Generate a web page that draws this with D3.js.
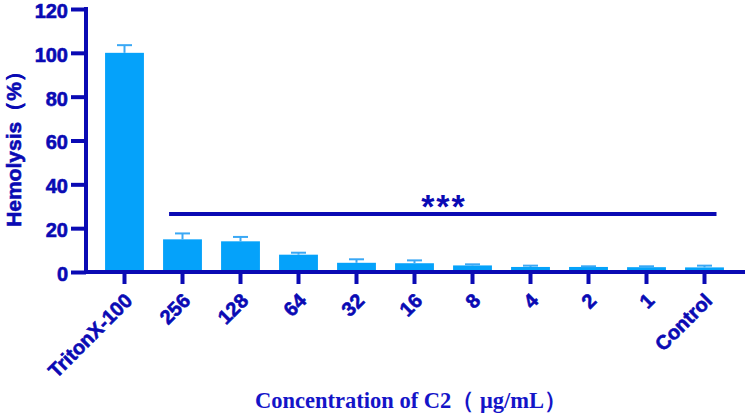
<!DOCTYPE html>
<html>
<head>
<meta charset="utf-8">
<script src="https://cdn.jsdelivr.net/npm/d3@7"></script>
<style>
  body { margin: 0; background: #fff; }
  svg { display: block; }
</style>
</head>
<body>
<div id="chart"></div>
<script>
var w = 747;
var h = 413;

// data
var categories = ['TritonX-100', '256', '128', '64', '32', '16', '8', '4', '2', '1', 'Control'];
var hemolysis = [100, 14.9, 14.0, 7.9, 4.2, 4.0, 3.0, 2.3, 2.3, 2.2, 2.1];
var errorTop = [103.5, 17.6, 16.0, 8.8, 5.8, 5.3, 3.5, 2.9, 2.6, 2.6, 2.9];
var yTicks = [0, 20, 40, 60, 80, 100, 120];
var sigLabel = '***';
var sigFrom = '256';
var sigTo = 'Control';

var axisColor = '#0a0ab4';
var barColor = '#05a2fa';
var errColor = '#3aa8f5';
var sansFont = 'Liberation Sans, Arial, sans-serif';

var svg = d3.select('#chart')
  .append('svg')
  .attr('width', w)
  .attr('height', h);

var x = d3.scaleBand()
  .domain(categories)
  .range([95.5, 733.5])
  .paddingInner(0.33)
  .paddingOuter(0.165);

var y = d3.scaleLinear()
  .domain([0, 120])
  .range([272, 9]);

// bars
svg.selectAll('.bar')
  .data(categories)
  .enter()
  .append('rect')
  .attr('class', 'bar')
  .attr('x', function(d) { return x(d); })
  .attr('width', x.bandwidth())
  .attr('y', function(d, i) { return y(hemolysis[i]); })
  .attr('height', function(d, i) { return y(0) - y(hemolysis[i]); })
  .attr('fill', barColor);

// error bars (upper only)
var errs = svg.selectAll('.err')
  .data(categories)
  .enter()
  .append('g')
  .attr('class', 'err')
  .attr('stroke', errColor)
  .attr('stroke-width', 2);

errs.append('line')
  .attr('x1', function(d) { return x(d) + x.bandwidth() / 2; })
  .attr('x2', function(d) { return x(d) + x.bandwidth() / 2; })
  .attr('y1', function(d, i) { return y(hemolysis[i]); })
  .attr('y2', function(d, i) { return y(errorTop[i]); });

errs.append('line')
  .attr('x1', function(d) { return x(d) + x.bandwidth() / 2 - 7.5; })
  .attr('x2', function(d) { return x(d) + x.bandwidth() / 2 + 7.5; })
  .attr('y1', function(d, i) { return y(errorTop[i]); })
  .attr('y2', function(d, i) { return y(errorTop[i]); });

// y axis
var yAxis = svg.append('g')
  .attr('transform', 'translate(86,0)')
  .call(d3.axisLeft(y).tickValues(yTicks).tickSize(15).tickPadding(3));

yAxis.select('.domain')
  .attr('d', 'M0,' + (y(120) - 2) + 'V' + (y(0) + 2))
  .attr('stroke', axisColor)
  .attr('stroke-width', 4);

yAxis.selectAll('.tick line')
  .attr('stroke', axisColor)
  .attr('stroke-width', 4);

yAxis.selectAll('.tick text')
  .attr('fill', axisColor)
  .attr('stroke', axisColor)
  .attr('stroke-width', 0.6)
  .attr('dy', '0.42em')
  .style('font-family', sansFont)
  .style('font-weight', 'bold')
  .style('font-size', '20px');

// x axis
var xAxis = svg.append('g')
  .attr('transform', 'translate(0,' + y(0) + ')')
  .call(d3.axisBottom(x).tickSize(12).tickSizeOuter(0));

xAxis.select('.domain')
  .attr('d', 'M84,0H745')
  .attr('stroke', axisColor)
  .attr('stroke-width', 4);

xAxis.selectAll('.tick line')
  .attr('stroke', axisColor)
  .attr('stroke-width', 4);

xAxis.selectAll('.tick text')
  .attr('fill', axisColor)
  .attr('stroke', axisColor)
  .attr('stroke-width', 0.6)
  .attr('text-anchor', 'end')
  .attr('y', 0)
  .attr('dy', 0)
  .attr('transform', 'translate(9,30) rotate(-45)')
  .style('font-family', sansFont)
  .style('font-weight', 'bold')
  .style('font-size', '20px');

// significance line
var sigY = 214;
svg.append('line')
  .attr('x1', x(sigFrom) + 6)
  .attr('x2', x(sigTo) + x.bandwidth() / 2 + 12)
  .attr('y1', sigY)
  .attr('y2', sigY)
  .attr('stroke', axisColor)
  .attr('stroke-width', 4);

svg.append('text')
  .attr('x', 444)
  .attr('y', 218)
  .attr('text-anchor', 'middle')
  .attr('fill', axisColor)
  .style('font-family', sansFont)
  .style('font-weight', 'bold')
  .style('letter-spacing', '2px')
  .style('font-size', '34px')
  .text(sigLabel);

// axis titles
svg.append('text')
  .attr('transform', 'translate(21,144) rotate(-90)')
  .attr('text-anchor', 'middle')
  .attr('fill', axisColor)
  .attr('stroke', axisColor)
  .attr('stroke-width', 0.6)
  .style('font-family', sansFont)
  .style('font-weight', 'bold')
  .style('font-size', '21px')
  .text('Hemolysis（%）');

svg.append('text')
  .attr('x', 411)
  .attr('y', 408)
  .attr('text-anchor', 'middle')
  .attr('fill', '#1414c8')
  .style('font-family', 'Liberation Serif, Times New Roman, serif')
  .style('font-weight', 'bold')
  .style('font-size', '22.5px')
  .text('Concentration of C2（ μg/mL）');
</script>
</body>
</html>
